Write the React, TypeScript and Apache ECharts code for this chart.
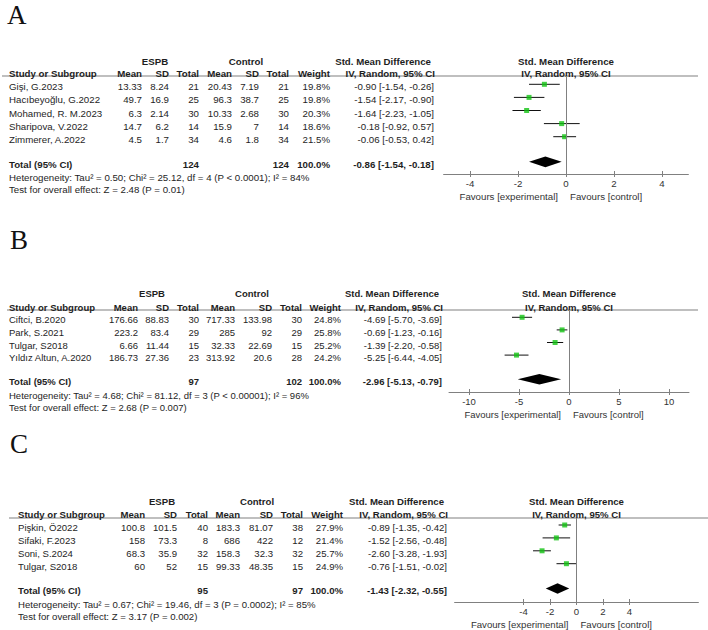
import { useEffect, useRef } from "react";
import * as echarts from "echarts";

const FONT = "'Liberation Sans', Arial, Helvetica, sans-serif";
const SERIF = "'Liberation Serif', 'DejaVu Serif', serif";
const TEXT = "#1e1e1e";
const GRAY = "#808080";
const GREEN = "#13c313";

// ---------------- Panel A ----------------
const studiesA = ["Gişi, G.2023", "Hacıbeyoğlu, G.2022", "Mohamed, R. M.2023", "Sharipova, V.2022", "Zimmerer, A.2022"];
const espbMeanA = [13.33, 49.7, 6.3, 14.7, 4.5];
const espbSdA = [8.24, 16.9, 2.14, 6.2, 1.7];
const espbNA = [21, 25, 30, 14, 34];
const ctrlMeanA = [20.43, 96.3, 10.33, 15.9, 4.6];
const ctrlSdA = [7.19, 38.7, 2.68, 7, 1.8];
const ctrlNA = [21, 25, 30, 14, 34];
const weightA = [19.8, 19.8, 20.3, 18.6, 21.5];
const smdA = [-0.9, -1.54, -1.64, -0.18, -0.06];
const loA = [-1.54, -2.17, -2.23, -0.92, -0.53];
const hiA = [-0.26, -0.9, -1.05, 0.57, 0.42];
const totalNA = [124, 124];
const pooledA = [-0.86, -1.54, -0.18];
const hetA = "Heterogeneity: Tau² = 0.50; Chi² = 25.12, df = 4 (P < 0.0001); I² = 84%";
const testA = "Test for overall effect: Z = 2.48 (P = 0.01)";
const ticksA = [-4, -2, 0, 2, 4];
const rangeA = [-5.1, 5.1];

// ---------------- Panel B ----------------
const studiesB = ["Ciftci, B.2020", "Park, S.2021", "Tulgar, S2018", "Yıldız Altun, A.2020"];
const espbMeanB = [176.66, 223.2, 6.66, 186.73];
const espbSdB = [88.83, 83.4, 11.44, 27.36];
const espbNB = [30, 29, 15, 23];
const ctrlMeanB = [717.33, 285, 32.33, 313.92];
const ctrlSdB = [133.98, 92, 22.69, 20.6];
const ctrlNB = [30, 29, 15, 28];
const weightB = [24.8, 25.8, 25.2, 24.2];
const smdB = [-4.69, -0.69, -1.39, -5.25];
const loB = [-5.7, -1.23, -2.2, -6.44];
const hiB = [-3.69, -0.16, -0.58, -4.05];
const totalNB = [97, 102];
const pooledB = [-2.96, -5.13, -0.79];
const hetB = "Heterogeneity: Tau² = 4.68; Chi² = 81.12, df = 3 (P < 0.00001); I² = 96%";
const testB = "Test for overall effect: Z = 2.68 (P = 0.007)";
const ticksB = [-10, -5, 0, 5, 10];
const rangeB = [-12, 12];

// ---------------- Panel C ----------------
const studiesC = ["Pişkin, Ö2022", "Sifaki, F.2023", "Soni, S.2024", "Tulgar, S2018"];
const espbMeanC = [100.8, 158, 68.3, 60];
const espbSdC = [101.5, 73.3, 35.9, 52];
const espbNC = [40, 8, 32, 15];
const ctrlMeanC = [183.3, 686, 158.3, 99.33];
const ctrlSdC = [81.07, 422, 32.3, 48.35];
const ctrlNC = [38, 12, 32, 15];
const weightC = [27.9, 21.4, 25.7, 24.9];
const smdC = [-0.89, -1.52, -2.6, -0.76];
const loC = [-1.35, -2.56, -3.28, -1.51];
const hiC = [-0.42, -0.48, -1.93, -0.02];
const totalNC = [95, 97];
const pooledC = [-1.43, -2.32, -0.55];
const hetC = "Heterogeneity: Tau² = 0.67; Chi² = 19.46, df = 3 (P = 0.0002); I² = 85%";
const testC = "Test for overall effect: Z = 3.17 (P = 0.002)";
const ticksC = [-4, -2, 0, 2, 4];
const rangeC = [-9.2, 9.2];

const headerCols = ["Mean", "SD", "Total", "Mean", "SD", "Total", "Weight"];

type Layout = {
  letter: string; letterX: number; letterY: number; font: number;
  groupY: number; headY: number; lineY: number; lineX1: number; lineX2: number;
  rowY0: number; rowH: number; axisY: number;
  cols: number[]; espbC: number; ctrlC: number; zero: number; ppu: number;
};

const layouts: Layout[] = [
  { letter: "A", letterX: 7, letterY: 14.5, font: 9.7, groupY: 61, headY: 73, lineY: 76, lineX1: 2, lineX2: 698,
    rowY0: 84.3, rowH: 13.1, axisY: 174, cols: [9, 142, 169, 199, 232, 259, 289, 330, 434], espbC: 155, ctrlC: 246, zero: 566, ppu: 24 },
  { letter: "B", letterX: 10, letterY: 240, font: 9.5, groupY: 293, headY: 307, lineY: 310, lineX1: 7, lineX2: 698,
    rowY0: 317.3, rowH: 12.6, axisY: 392, cols: [9, 138, 169, 199, 235, 272, 302, 341, 442], espbC: 152, ctrlC: 252, zero: 569, ppu: 10 },
  { letter: "C", letterX: 10, letterY: 444, font: 9.6, groupY: 501, headY: 514, lineY: 518, lineX1: 9, lineX2: 708,
    rowY0: 525, rowH: 12.9, axisY: 602, cols: [18, 145, 177, 208, 240, 273, 303, 343, 447], espbC: 162, ctrlC: 257, zero: 576.5, ppu: 13.25 },
];

const panels = [
  { studies: studiesA, espbMean: espbMeanA, espbSd: espbSdA, espbN: espbNA, ctrlMean: ctrlMeanA, ctrlSd: ctrlSdA, ctrlN: ctrlNA,
    weight: weightA, smd: smdA, lo: loA, hi: hiA, totalN: totalNA, pooled: pooledA, het: hetA, test: testA, ticks: ticksA, range: rangeA },
  { studies: studiesB, espbMean: espbMeanB, espbSd: espbSdB, espbN: espbNB, ctrlMean: ctrlMeanB, ctrlSd: ctrlSdB, ctrlN: ctrlNB,
    weight: weightB, smd: smdB, lo: loB, hi: hiB, totalN: totalNB, pooled: pooledB, het: hetB, test: testB, ticks: ticksB, range: rangeB },
  { studies: studiesC, espbMean: espbMeanC, espbSd: espbSdC, espbN: espbNC, ctrlMean: ctrlMeanC, ctrlSd: ctrlSdC, ctrlN: ctrlNC,
    weight: weightC, smd: smdC, lo: loC, hi: hiC, totalN: totalNC, pooled: pooledC, het: hetC, test: testC, ticks: ticksC, range: rangeC },
];

const f2 = (v: number) => v.toFixed(2);
const ciText = (e: number, l: number, h: number) => `${f2(e)} [${f2(l)}, ${f2(h)}]`;

function txt(text: string, x: number, y: number, size: number, align: string, bold = false, family = FONT, color = TEXT) {
  return {
    type: "text",
    x,
    y,
    silent: true,
    style: {
      text,
      fontSize: size,
      fontFamily: family,
      fontWeight: bold ? "bold" : "normal",
      fill: color,
      align,
      verticalAlign: "middle",
      textAlign: align,
      textVerticalAlign: "middle",
    },
  };
}

function buildOption() {
  const grids: any[] = [];
  const xAxes: any[] = [];
  const yAxes: any[] = [];
  const series: any[] = [];
  const graphics: any[] = [];
  const TDY = 2.5;

  panels.forEach((p, k) => {
    const L = layouts[k];
    const n = p.studies.length;
    const totalIdx = n + 0.92;
    const [xmin, xmax] = p.range;
    const fs = L.font;
    const c = L.cols;

    grids.push({ left: L.zero + xmin * L.ppu, top: L.lineY, width: (xmax - xmin) * L.ppu, height: L.axisY - L.lineY, containLabel: false });
    xAxes.push({
      gridIndex: k, type: "value", min: xmin, max: xmax, position: "bottom",
      axisLine: { onZero: false, lineStyle: { color: GRAY, width: 1 } },
      axisTick: { show: true, inside: false, length: 3, lineStyle: { color: GRAY, width: 1 }, customValues: p.ticks },
      axisLabel: { customValues: p.ticks, margin: 4.5, fontSize: fs, fontFamily: FONT, color: "#333" },
      splitLine: { show: false },
    });
    xAxes.push({
      gridIndex: k, type: "value", min: xmin, max: xmax, position: "bottom",
      axisLine: { show: false, onZero: false },
      axisTick: { show: true, inside: true, length: 3, lineStyle: { color: GRAY, width: 1 }, customValues: p.ticks },
      axisLabel: { show: false },
      splitLine: { show: false },
    });
    yAxes.push({
      gridIndex: k, type: "value", inverse: true,
      min: (L.lineY - L.rowY0) / L.rowH, max: (L.axisY - L.rowY0) / L.rowH, show: false,
    });

    series.push({
      type: "custom", xAxisIndex: 2 * k, yAxisIndex: k, silent: true, z: 2,
      encode: { x: [0, 1], y: 2 },
      data: p.studies.map((_, i) => [p.lo[i], p.hi[i], i]),
      renderItem: (_params: any, api: any) => {
        const a = api.coord([api.value(0), api.value(2)]);
        const b = api.coord([api.value(1), api.value(2)]);
        return { type: "line", shape: { x1: a[0], y1: a[1], x2: b[0], y2: b[1] }, style: { stroke: "#111", lineWidth: 1 } };
      },
    });
    series.push({
      type: "scatter", xAxisIndex: 2 * k, yAxisIndex: k, silent: true, z: 3,
      symbol: "rect", symbolSize: 5,
      itemStyle: { color: GREEN },
      data: p.studies.map((_, i) => [p.smd[i], i]),
      markLine: {
        silent: true, symbol: ["none", "none"], label: { show: false },
        lineStyle: { color: GRAY, type: "solid", width: 1 },
        data: [{ xAxis: 0 }],
      },
    });
    series.push({
      type: "custom", xAxisIndex: 2 * k, yAxisIndex: k, silent: true, z: 3,
      encode: { x: [0, 1, 2], y: 3 },
      data: [[p.pooled[1], p.pooled[0], p.pooled[2], totalIdx]],
      renderItem: (_params: any, api: any) => {
        const l = api.coord([api.value(0), api.value(3)]);
        const m = api.coord([api.value(1), api.value(3)]);
        const r = api.coord([api.value(2), api.value(3)]);
        const h = 5.3;
        return {
          type: "polygon",
          shape: { points: [[l[0], l[1]], [m[0], m[1] - h], [r[0], r[1]], [m[0], m[1] + h]] },
          style: { fill: "#000" },
        };
      },
    });

    // letter
    graphics.push(txt(L.letter, L.letterX, L.letterY, 27, "left", false, SERIF, "#111"));
    // header line
    graphics.push({ type: "line", silent: true, shape: { x1: L.lineX1, y1: L.lineY, x2: L.lineX2, y2: L.lineY }, style: { stroke: GRAY, lineWidth: 1.2 } });
    // group headers
    graphics.push(txt("ESPB", L.espbC, L.groupY, fs, "center", true));
    graphics.push(txt("Control", L.ctrlC, L.groupY, fs, "center", true));
    graphics.push(txt("Std. Mean Difference", c[8] - 3, L.groupY, fs, "right", true));
    graphics.push(txt("Std. Mean Difference", L.zero, L.groupY, fs, "center", true));
    // header row
    graphics.push(txt("Study or Subgroup", c[0], L.headY, fs, "left", true));
    headerCols.forEach((h, j) => graphics.push(txt(h, c[j + 1], L.headY, fs, "right", true)));
    graphics.push(txt("IV, Random, 95% CI", c[8] + 1, L.headY, fs, "right", true));
    graphics.push(txt("IV, Random, 95% CI", L.zero, L.headY, fs, "center", true));
    // study rows
    p.studies.forEach((s, i) => {
      const y = L.rowY0 + i * L.rowH + TDY;
      const vals = [String(p.espbMean[i]), String(p.espbSd[i]), String(p.espbN[i]), String(p.ctrlMean[i]), String(p.ctrlSd[i]), String(p.ctrlN[i]), p.weight[i].toFixed(1) + "%"];
      graphics.push(txt(s, c[0], y, fs, "left"));
      vals.forEach((v, j) => graphics.push(txt(v, c[j + 1], y, fs, "right")));
      graphics.push(txt(ciText(p.smd[i], p.lo[i], p.hi[i]), c[8], y, fs, "right"));
    });
    // total row
    const ty = L.rowY0 + totalIdx * L.rowH + TDY;
    graphics.push(txt("Total (95% CI)", c[0], ty, fs, "left", true));
    graphics.push(txt(String(p.totalN[0]), c[3], ty, fs, "right", true));
    graphics.push(txt(String(p.totalN[1]), c[6], ty, fs, "right", true));
    graphics.push(txt((100).toFixed(1) + "%", c[7], ty, fs, "right", true));
    graphics.push(txt(ciText(p.pooled[0], p.pooled[1], p.pooled[2]), c[8], ty, fs, "right", true));
    graphics.push(txt(p.het, c[0], ty + 13.5, fs, "left"));
    graphics.push(txt(p.test, c[0], ty + 25.5, fs, "left"));
    // favours
    graphics.push(txt("Favours [experimental]", L.zero - 8, L.axisY + 22, fs, "right", false, FONT, "#333"));
    graphics.push(txt("Favours [control]", L.zero + 4, L.axisY + 22, fs, "left", false, FONT, "#333"));
  });

  return {
    animation: false,
    backgroundColor: "#ffffff",
    grid: grids,
    xAxis: xAxes,
    yAxis: yAxes,
    series,
    graphic: { elements: graphics },
  };
}

export default function App() {
  const ref = useRef<HTMLDivElement>(null);
  useEffect(() => {
    document.body.style.margin = "0";
    if (!ref.current) return;
    const chart = echarts.init(ref.current, undefined, { renderer: "svg" });
    chart.setOption(buildOption() as any);
    return () => chart.dispose();
  }, []);
  return <div ref={ref} style={{ position: "fixed", left: 0, top: 0, width: 708, height: 630, background: "#fff" }} />;
}
